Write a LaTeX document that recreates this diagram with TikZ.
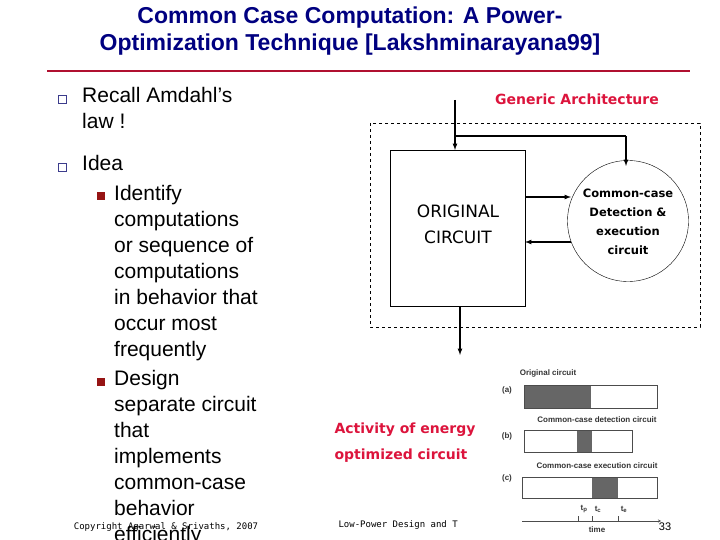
\documentclass[tikz,border=0pt]{standalone}
\usepackage{fontspec}
\setmainfont{Liberation Sans}
\newfontfamily\cmc{DejaVu Sans}
\newfontfamily\mon{DejaVu Sans Mono}
\definecolor{navy}{RGB}{0,0,128}
\definecolor{redc}{RGB}{220,20,60}
\definecolor{brn}{RGB}{150,20,20}
\definecolor{bul}{RGB}{60,60,140}
\begin{document}
\begin{tikzpicture}[x=1pt,y=-1pt,
  body/.style={anchor=north west,font=\fontsize{21}{26}\selectfont,align=left,inner sep=0},
  arr/.style={-latex,line width=1.2pt},
  bar/.style={draw=black!70,line width=0.8pt},
  shd/.style={fill=black!60},
  small/.style={font=\fontsize{8}{9}\selectfont\bfseries,text=black!80,inner sep=0}]
\useasboundingbox (0,0) rectangle (720,540);
\node[text=navy,font=\fontsize{23}{27}\bfseries\selectfont,align=center] (title) at (350,31) {Common Case Computation: A Power-\\Optimization Technique [Lakshminarayana99]};
\draw[redc!80!black,line width=1.5pt] (47,71) -- (690,71);
% bullets
\node[draw=bul,line width=0.8pt,minimum size=8pt,inner sep=0] (b1) at (62,99) {};
\node[draw=bul,line width=0.8pt,minimum size=8pt,inner sep=0] (b2) at (62,167) {};
\node[body] (t1) at (82,87) {Recall Amdahl’s\\law !};
\node[body] (t2) at (82,155) {Idea};
\node[fill=brn,minimum size=8pt,inner sep=0] (s1) at (101,196) {};
\node[fill=brn,minimum size=8pt,inner sep=0] (s2) at (101,382) {};
\node[body] (t3) at (114,185) {Identify\\computations\\or sequence of\\computations\\in behavior that\\occur most\\frequently};
\node[body] (t4) at (114,370) {Design\\separate circuit\\that\\implements\\common-case\\behavior\\efficiently};
% architecture
\node[text=redc,font=\cmc\bfseries\fontsize{14}{16}\selectfont] (ga) at (577,99) {Generic Architecture};
\draw[dashed] (370,123) rectangle (700,327);
\node[draw,minimum width=135pt,minimum height=156pt,anchor=north west,inner sep=0] (oc) at (390,150) {};
\node[font=\cmc\fontsize{17}{26}\selectfont,align=center] (oct) at (458,224) {ORIGINAL\\CIRCUIT};
\node[draw,circle,minimum size=121pt,inner sep=0] (cc) at (628,221) {};
\node[font=\cmc\bfseries\fontsize{11.5}{19}\selectfont,align=center] (cct) at (628,222) {Common-case\\Detection \&\\execution\\circuit};
\coordinate (in) at (455,100);
\coordinate (br) at (455,136);
\coordinate (brr) at (626,136);
\coordinate (out) at (460,355);
\draw[arr] (in) -- (455,150);
\draw[line width=1.2pt] (br) -- (brr);
\draw[arr] (brr) -- (626,166);
\draw[arr] (525,197) -- (571,197);
\draw[arr] (571,242) -- (525,242);
\draw[arr] (460,306) -- (out);
% activity
\node[text=redc,font=\cmc\bfseries\fontsize{14}{26}\selectfont,align=left] (act) at (405,443) {Activity of energy\\optimized circuit};
\node[small] (la) at (548,373) {Original circuit};
\node[small] (lb) at (597,420) {Common-case detection circuit};
\node[small] (lc) at (597,466) {Common-case execution circuit};
\node[small] (pa) at (507,390) {(a)};
\node[small] (pb) at (507,436) {(b)};
\node[small] (pc) at (507,478) {(c)};
\fill[shd] (524,385) rectangle (591,408);
\draw[bar] (524,385) rectangle (657,408);
\fill[shd] (577,430) rectangle (592,452);
\draw[bar] (524,430) rectangle (632,452);
\fill[shd] (592,477) rectangle (618,498);
\draw[bar] (522,477) rectangle (657,498);
\coordinate (ax0) at (522,521);
\coordinate (ax1) at (661,521);
\draw[-stealth,black!70] (ax0) -- (ax1);
\draw[black!70] (578,516)--(578,521) (592,516)--(592,521) (618,516)--(618,521);
\node[small] (tp) at (584,509) {t\textsubscript{p}};
\node[small] (tc) at (598,509) {t\textsubscript{c}};
\node[small] (te) at (624,509) {t\textsubscript{e}};
\node[small] (tm) at (597,530) {time};
% footer
\node[font=\mon\fontsize{9}{10}\selectfont] (cp) at (166,527) {Copyright Agarwal \& Srivaths, 2007};
\node[font=\mon\fontsize{9}{10}\selectfont,anchor=west] (lp) at (335,525) {Low-Power Design and T};
\node[font=\fontsize{11}{12}\selectfont] (pg) at (665,527) {33};
\end{tikzpicture}
\end{document}
